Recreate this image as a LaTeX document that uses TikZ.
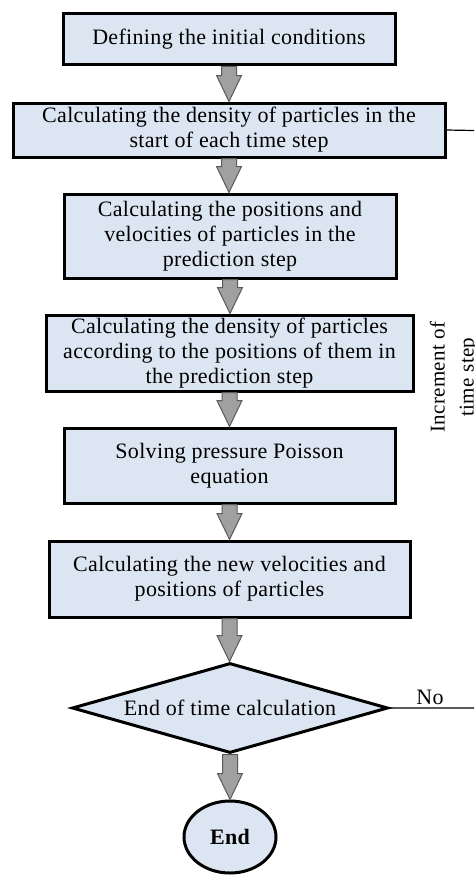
\documentclass[tikz,border=0pt]{standalone}
\usepackage{fontspec}
\setmainfont{Liberation Serif}[LetterSpace=1.5]
\usetikzlibrary{shapes.geometric,calc}
\definecolor{boxfill}{HTML}{DCE6F2}
\definecolor{arrfill}{HTML}{A0A0A0}
\definecolor{arrline}{HTML}{5A5A5A}
\tikzset{
  stepbox/.style={draw=black, line width=3pt, fill=boxfill, rectangle, inner sep=0pt,
    align=center, font=\fontsize{22}{25}\selectfont},
  decisionbox/.style={draw=black, line width=3pt, fill=boxfill, diamond, aspect=3.5,
    inner sep=0pt, minimum width=316pt, minimum height=90pt, align=center,
    font=\fontsize{22}{25}\selectfont},
  endbox/.style={draw=black, line width=3pt, fill=boxfill, ellipse, inner sep=0pt,
    minimum width=92pt, minimum height=72pt, font=\fontsize{22}{25}\selectfont\bfseries},
  blockarrow/.style={fill=arrfill, draw=arrline, line width=1pt, line join=miter},
  loopline/.style={draw=black, line width=1.2pt},
  lbl/.style={font=\fontsize{22}{25}\selectfont, inner sep=0pt}
}
\newcommand{\blockarr}[2]{%
  \path[blockarrow] let \p1=(#1.south), \p2=(#2.north) in
    (\x1-7.5pt,\y1) -- (\x1-7.5pt,\y2+26pt) -- (\x1-12.5pt,\y2+26pt) -- (\x1,\y2)
    -- (\x1+12.5pt,\y2+26pt) -- (\x1+7.5pt,\y2+26pt) -- (\x1+7.5pt,\y1) -- cycle;}
\begin{document}
\begin{tikzpicture}[x=1pt,y=-1pt]
\useasboundingbox (0,0) rectangle (474,875);
\clip (0,0) rectangle (474,875);
\node[stepbox, minimum width=332pt, minimum height=51pt] (b1) at (229,39.5)
  {Defining the initial conditions};
\node[stepbox, minimum width=432pt, minimum height=54pt] (b2) at (229,130)
  {Calculating the density of particles in the\\start of each time step};
\node[stepbox, minimum width=332pt, minimum height=84pt] (b3) at (230,236)
  {Calculating the positions and\\velocities of particles in the\\prediction step};
\node[stepbox, minimum width=367pt, minimum height=76pt] (b4) at (229.5,353)
  {Calculating the density of particles\\according to the positions of them in\\the prediction step};
\node[stepbox, minimum width=331pt, minimum height=75pt] (b5) at (229.5,465.5)
  {Solving pressure Poisson\\equation};
\node[stepbox, minimum width=361pt, minimum height=76pt] (b6) at (229.5,579)
  {Calculating the new velocities and\\positions of particles};
\node[decisionbox] (d) at (230,708) {End of time calculation};
\node[endbox] (e) at (230,837) {End};
\blockarr{b1}{b2}
\blockarr{b2}{b3}
\blockarr{b3}{b4}
\blockarr{b4}{b5}
\blockarr{b5}{b6}
\blockarr{b6}{d}
\blockarr{d}{e}
\coordinate (r1) at (500,708);
\coordinate (r2) at (500,131);
\draw[loopline] (d.east) -- (r1) -- (r2) -- (b2.east);
\node[lbl] (no) at (430,697) {No};
\node[lbl, rotate=90, align=center, font=\fontsize{21}{29}\selectfont] (inc) at (454,377)
  {Increment of\\time step};
\end{tikzpicture}
\end{document}
